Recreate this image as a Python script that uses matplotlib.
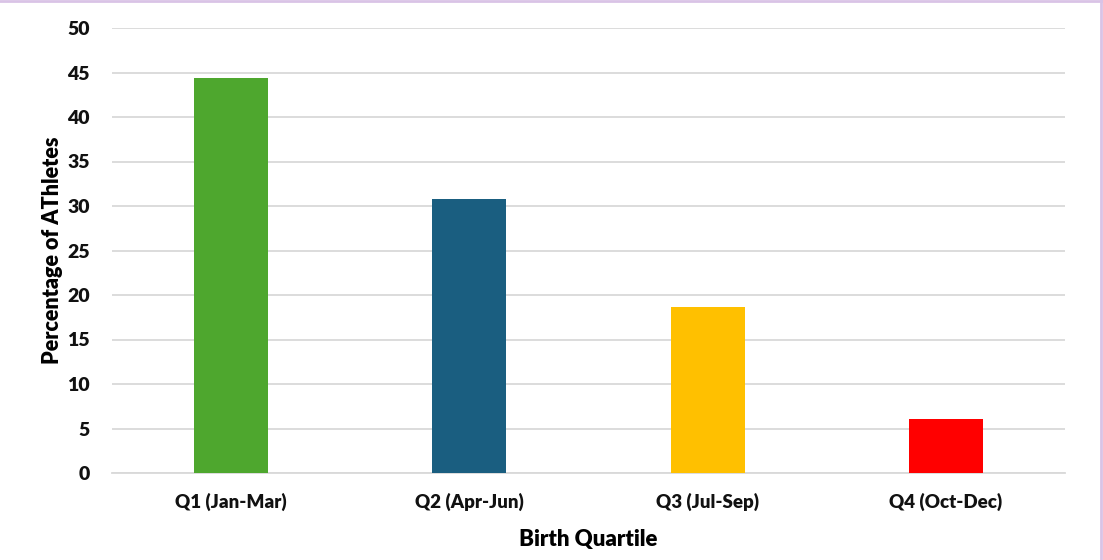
import matplotlib
matplotlib.use("Agg")
import matplotlib.pyplot as plt
from matplotlib.lines import Line2D

categories = ["Q1 (Jan-Mar)", "Q2 (Apr-Jun)", "Q3 (Jul-Sep)", "Q4 (Oct-Dec)"]
values = [44.4, 30.8, 18.7, 6.1]
colors = ["#4EA72E", "#1A5E80", "#FFC000", "#FF0000"]
yticks = [0, 5, 10, 15, 20, 25, 30, 35, 40, 45, 50]

plt.rcParams['font.family'] = ['Lato', 'DejaVu Sans']

fig = plt.figure(figsize=(11.03, 5.6), dpi=100)
ax = fig.add_axes([112/1103, 1 - 473/560, (1065-112)/1103, (473-28)/560])

x = range(len(categories))
ax.bar(x, values, width=0.31, color=colors, zorder=3)
ax.set_xlim(-0.5, len(categories) - 0.5)
ax.set_ylim(0, 50)
ax.set_yticks(yticks)
ax.set_xticks(list(x))
ax.set_xticklabels(categories)
ax.yaxis.grid(True, color="#D9D9D9", linewidth=1.3, zorder=0)
ax.set_axisbelow(True)
for s in ax.spines.values():
    s.set_visible(False)
ax.spines['bottom'].set_visible(True)
ax.spines['bottom'].set_color("#D9D9D9")
ax.spines['bottom'].set_linewidth(1.3)
ax.tick_params(axis='x', length=0, labelsize=13.5, pad=14)
ax.tick_params(axis='y', length=0, labelsize=14, pad=16)
for lbl in ax.get_xticklabels() + ax.get_yticklabels():
    lbl.set_fontweight('heavy')
    lbl.set_color('#111111')

ax.set_ylabel("Percentage of AThletes", fontsize=15.5, fontweight='heavy', labelpad=3)
ax.set_xlabel("Birth Quartile", fontsize=16, fontweight='heavy', labelpad=13)

fig.add_artist(Line2D([0, 1], [0.999, 0.999], transform=fig.transFigure, color="#D9C3E6", linewidth=2))
fig.add_artist(Line2D([0.9985, 0.9985], [0, 1], transform=fig.transFigure, color="#D9C3E6", linewidth=2))

fig.savefig("out.png", dpi=100)
